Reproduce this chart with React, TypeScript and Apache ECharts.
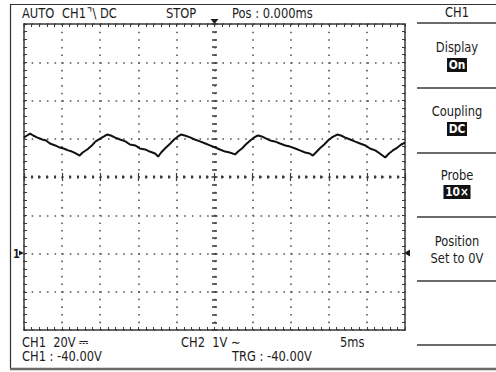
import React, { useEffect, useRef } from "react";
import * as echarts from "echarts";

// Waveform samples: time (ms) and CH1 voltage (V)
const timeMs = [
  -25.0, -24.6, -24.2, -23.8, -23.3, -22.6, -22.1, -21.6, -20.9, -20.3, -19.8, -19.2, -18.7, -18.2, -17.7,
  -17.3, -16.7, -16.1, -15.6, -15.0, -14.5, -14.1, -13.6, -13.1, -12.4, -11.7, -11.1, -10.4, -9.8, -9.1,
  -8.5, -7.8, -7.4, -7.0, -6.5, -5.8, -5.3, -4.8, -4.4, -3.9, -3.2, -2.6, -1.9, -1.2, -0.6,
  0.1, 0.7, 1.4, 2.0, 2.7, 3.1, 3.6, 4.1, 4.7, 5.2, 5.7, 6.2, 6.8, 7.3, 7.9,
  8.6, 9.3, 9.9, 10.6, 11.2, 11.9, 12.5, 12.9, 13.3, 13.8, 14.4, 14.9, 15.4, 16.1, 16.6,
  17.1, 17.8, 18.4, 19.1, 19.8, 20.4, 21.1, 21.7, 22.4, 22.9, 23.4, 24.0, 24.5, 25.0,
];
const voltsV = [
  60.7, 61.7, 62.7, 61.7, 60.7, 59.6, 59.1, 57.5, 56.5, 55.4, 54.9, 53.9, 53.3, 52.3, 51.2,
  52.8, 54.4, 56.5, 58.6, 60.1, 61.2, 62.2, 61.7, 60.7, 59.6, 58.6, 57.0, 56.5, 54.9, 54.4,
  53.3, 52.3, 50.7, 52.8, 54.9, 57.5, 59.6, 61.2, 62.2, 61.7, 60.7, 59.6, 58.6, 57.5, 56.5,
  55.4, 54.4, 53.3, 52.8, 51.8, 53.3, 54.9, 57.0, 59.1, 60.7, 61.7, 61.2, 60.1, 59.1, 58.6,
  57.5, 56.5, 55.9, 54.9, 53.9, 52.8, 52.3, 51.2, 52.8, 54.9, 57.0, 59.1, 60.7, 62.2, 61.7,
  60.7, 59.6, 58.6, 57.5, 56.5, 54.9, 53.9, 52.3, 50.2, 52.3, 53.9, 55.4, 57.0, 58.0,
];

// Axis ranges (5 ms/div, 20 V/div, ground 2 div below centre)
const timeRange = [-25, 25];
const timeStep = 5;
const voltRange = [-40, 120];
const voltStep = 20;

// Screen texts
const statusTop = ["AUTO", "CH1", "⌝\\", "DC", "STOP", "Pos : 0.000ms"];
const statusBottom = ["CH1  20V ⎓", "CH1 : -40.00V", "CH2  1V ∼", "5ms", "TRG : -40.00V"];
const menuHeader = "CH1";
const menuTitles = ["Display", "Coupling", "Probe", "Position"];
const menuValues = ["On", "DC", "10×", "Set to 0V"];

const FONT_FAMILY = "'DejaVu Sans',sans-serif";
const INK = "#1c1c1c";
const FRAME = "#3a3a3a";
const SQUEEZE = 0.82;

function txt(text: string, x: number, y: number, align = "left", extra: any = {}) {
  return {
    type: "text",
    silent: true,
    x,
    y,
    scaleX: SQUEEZE,
    style: {
      text,
      x: 0,
      y: 0,
      fill: INK,
      font: `14px ${FONT_FAMILY}`,
      textAlign: align,
      textVerticalAlign: "middle",
      ...extra,
    },
  };
}

function hline(x1: number, x2: number, y: number, stroke = FRAME, lineWidth = 1.5) {
  return { type: "line", silent: true, shape: { x1, y1: y, x2, y2: y }, style: { stroke, lineWidth } };
}

const inverted = { fill: "#fff", backgroundColor: "#111", padding: [1, 2, 0, 2], font: `bold 13px ${FONT_FAMILY}` };

export default function App() {
  const ref = useRef<HTMLDivElement>(null);

  useEffect(() => {
    if (!ref.current) return;
    const chart = echarts.init(ref.current, undefined, { renderer: "svg" });

    const data = timeMs.map((t, i) => [t, voltsV[i]]);

    const baseX = {
      type: "value",
      min: timeRange[0],
      max: timeRange[1],
      interval: timeStep,
      axisLabel: { show: false },
      splitLine: { show: false },
    };
    const baseY = {
      type: "value",
      min: voltRange[0],
      max: voltRange[1],
      interval: voltStep,
      axisLabel: { show: false },
      splitLine: { show: false },
    };
    const frameLine = { show: true, onZero: false, lineStyle: { color: FRAME, width: 1.5 } };
    const edgeTick = { show: true, inside: true, length: 3, lineStyle: { color: FRAME, width: 1 } };
    const edgeMinor = { show: true, splitNumber: 5, length: 3, lineStyle: { color: FRAME, width: 1 } };
    const dotted = { show: true, lineStyle: { color: "#555", width: 1.6, type: [1.6, 6.03] } };

    const centreXAxis = (inside: boolean) => ({
      ...baseX,
      position: "bottom",
      offset: -153,
      axisLine: { show: false },
      axisTick: { show: true, inside, length: 4, lineStyle: { color: FRAME, width: 1.2 } },
      minorTick: { show: true, splitNumber: 5, length: 1.5, lineStyle: { color: FRAME, width: 2 } },
    });
    const centreYAxis = (inside: boolean) => ({
      ...baseY,
      position: "left",
      offset: -190.5,
      axisLine: { show: false },
      axisTick: { show: true, inside, length: 3, lineStyle: { color: FRAME, width: 1.5 } },
      minorTick: { show: true, splitNumber: 5, length: 2.5, lineStyle: { color: FRAME, width: 1.5 } },
    });

    const graphics: any[] = [
      // outer bezel
      hline(10, 496, 4.5, "#333", 1.2),
      { type: "line", silent: true, shape: { x1: 10.5, y1: 4, x2: 10.5, y2: 369 }, style: { stroke: "#333", lineWidth: 1.2 } },
      hline(10, 496, 369, "#6a6a6a", 2.5),
      // right menu separators
      ...[23, 88, 153, 217, 281, 345].map((y) => hline(417, 496, y)),
      // top status line
      txt(statusTop[0], 22, 13),
      txt(statusTop[1], 62, 13),
      txt(statusTop[2], 87, 13),
      txt(statusTop[3], 100, 13),
      txt(statusTop[4], 166, 13),
      txt(statusTop[5], 232, 13),
      // bottom status lines
      txt(statusBottom[0], 22, 342),
      txt(statusBottom[1], 22, 356),
      txt(statusBottom[2], 181, 342),
      txt(statusBottom[3], 340, 342),
      txt(statusBottom[4], 232, 356),
      // right menu
      txt(menuHeader, 457, 12, "center"),
      txt(menuTitles[0], 457, 47, "center"),
      txt(menuValues[0], 457, 65, "center", inverted),
      txt(menuTitles[1], 457, 111, "center"),
      txt(menuValues[1], 457, 129, "center", inverted),
      txt(menuTitles[2], 457, 175, "center"),
      txt(menuValues[2], 457, 192, "center", inverted),
      txt(menuTitles[3], 457, 241, "center"),
      txt(menuValues[3], 457, 258, "center"),
      // markers
      { type: "polygon", silent: true, shape: { points: [[210.5, 19], [218.5, 19], [214.5, 24]] }, style: { fill: INK } },
      { type: "polygon", silent: true, shape: { points: [[404, 253], [410, 249.5], [410, 256.5]] }, style: { fill: INK } },
      txt("1", 13, 254, "left", { font: `bold 12px ${FONT_FAMILY}` }),
      { type: "polygon", silent: true, shape: { points: [[19, 250.5], [24, 253], [19, 255.5]] }, style: { fill: INK } },
    ];

    chart.setOption({
      animation: false,
      backgroundColor: "#fff",
      grid: { left: 24, top: 24, width: 381, height: 306, containLabel: false },
      xAxis: [
        { ...baseX, position: "bottom", axisLine: frameLine, axisTick: edgeTick, minorTick: edgeMinor, splitLine: dotted },
        { ...baseX, position: "top", axisLine: frameLine, axisTick: edgeTick, minorTick: edgeMinor },
        centreXAxis(true),
        centreXAxis(false),
      ],
      yAxis: [
        { ...baseY, position: "left", axisLine: frameLine, axisTick: edgeTick, minorTick: edgeMinor, splitLine: dotted },
        { ...baseY, position: "right", axisLine: frameLine, axisTick: edgeTick, minorTick: edgeMinor },
        centreYAxis(true),
        centreYAxis(false),
      ],
      series: [
        {
          type: "line",
          xAxisIndex: 0,
          yAxisIndex: 0,
          data,
          symbol: "none",
          smooth: false,
          z: 10,
          lineStyle: { color: "#111", width: 2 },
        },
      ],
      graphic: graphics,
    });

    return () => chart.dispose();
  }, []);

  return (
    <div
      ref={ref}
      style={{ position: "fixed", left: 0, top: 0, width: 496, height: 372 }}
    />
  );
}
